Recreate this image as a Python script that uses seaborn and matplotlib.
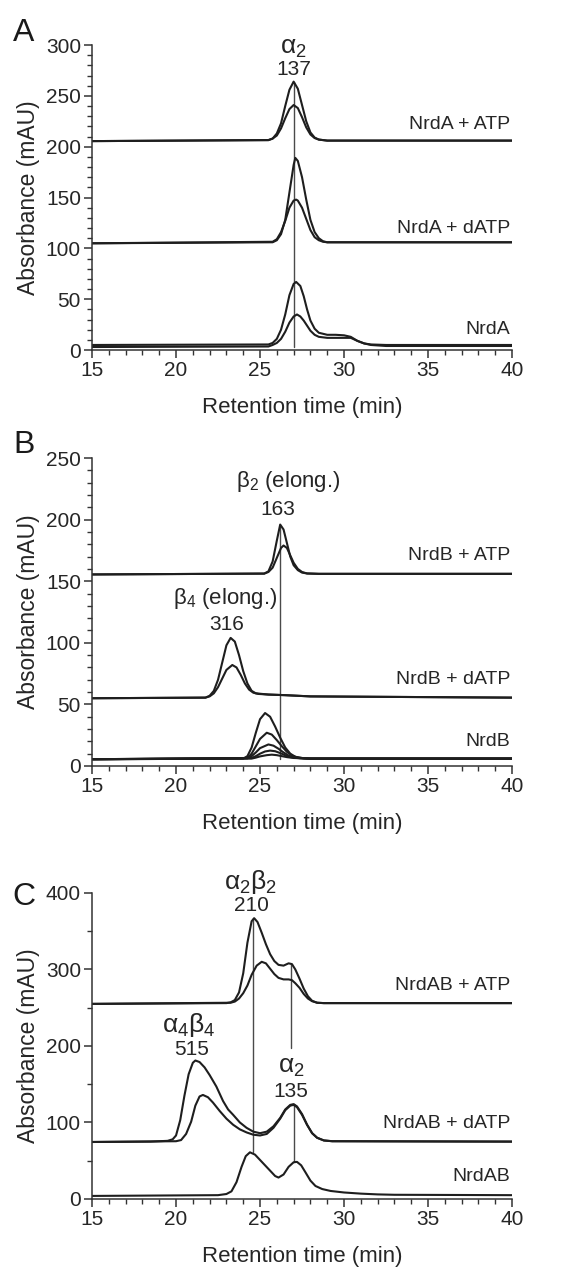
import matplotlib
matplotlib.use("Agg")
import matplotlib.pyplot as plt
from matplotlib.ticker import MultipleLocator
import pandas as pd
import seaborn as sns

# --- traces: (retention time in min, absorbance in mAU) ---

# panel A: NrdA
A_ATP_HIGH = [(15, 205.5), (25.5, 206.5), (25.75, 208), (26.0, 213), (26.25, 223), (26.5, 240),
              (26.75, 256), (27.0, 264), (27.25, 257), (27.5, 241), (27.75, 225), (28.0, 214),
              (28.25, 209), (28.5, 207), (29.0, 206), (40, 206)]
A_ATP_LOW = [(15, 205.5), (25.5, 206.5), (25.75, 208), (26.0, 211), (26.25, 218), (26.5, 228),
             (26.75, 237), (27.0, 241), (27.25, 238), (27.5, 229), (27.75, 219), (28.0, 212),
             (28.25, 208.5), (28.5, 207), (29.0, 206), (40, 206)]
A_DATP_HIGH = [(15, 105), (25.75, 106), (26.0, 108), (26.25, 114), (26.5, 128), (26.75, 155),
               (27.0, 182), (27.1, 189), (27.25, 186), (27.5, 170), (27.75, 148), (28.0, 128),
               (28.25, 116), (28.5, 110), (28.75, 107), (29.0, 106), (40, 106)]
A_DATP_LOW = [(15, 105), (25.75, 106.5), (26.0, 109), (26.25, 116), (26.5, 127), (26.75, 140),
              (27.0, 147), (27.15, 148), (27.25, 147), (27.5, 140), (27.75, 129), (28.0, 118),
              (28.25, 111), (28.5, 108), (28.75, 106.5), (29.0, 106), (40, 106)]
A_APO_HIGH = [(15, 5), (25.5, 5.5), (25.75, 7), (26.0, 11), (26.25, 20), (26.5, 35), (26.75, 54),
              (27.0, 65), (27.15, 67), (27.4, 63), (27.6, 53), (27.8, 40), (28.0, 29), (28.25, 21),
              (28.5, 17), (29.0, 15), (29.5, 15), (30.0, 14.5), (30.4, 13), (30.8, 9), (31.2, 6.5),
              (31.6, 5.5), (32.5, 5), (40, 5)]
A_APO_LOW = [(15, 3), (25.5, 3.5), (25.75, 5), (26.0, 7), (26.25, 11), (26.5, 18), (26.75, 27),
             (27.0, 33), (27.2, 35), (27.4, 33), (27.6, 29), (27.8, 24), (28.0, 19), (28.25, 15),
             (28.5, 13), (29.0, 12), (29.5, 12), (30.0, 12), (30.4, 12), (30.8, 9), (31.2, 6.5),
             (31.6, 5), (32.5, 4), (40, 4)]

# panel B: NrdB
B_ATP_HIGH = [(15, 155.5), (25.25, 156.2), (25.5, 158), (25.75, 166), (26.0, 183), (26.2, 196),
              (26.4, 192), (26.6, 181), (26.8, 170), (27.0, 163), (27.25, 159), (27.5, 157),
              (27.8, 156.3), (28.5, 156), (40, 156)]
B_ATP_LOW = [(15, 155.5), (25.25, 156.2), (25.5, 157.5), (25.75, 161), (26.0, 169), (26.25, 177),
             (26.4, 179), (26.6, 177), (26.8, 171), (27.0, 165), (27.25, 160), (27.5, 157.5),
             (27.8, 156.3), (28.5, 156), (40, 156)]
B_DATP_HIGH = [(15, 55), (21.75, 55.5), (22.0, 57), (22.25, 61), (22.5, 70), (22.75, 84), (23.0, 98),
               (23.25, 104), (23.5, 101), (23.75, 90), (24.0, 77), (24.25, 67), (24.5, 61),
               (24.75, 59), (25.5, 58), (26.5, 57.5), (28.0, 56.5), (40, 55.5)]
B_DATP_LOW = [(15, 55), (21.75, 55.5), (22.0, 56.5), (22.25, 59), (22.5, 64), (22.75, 71), (23.0, 78),
              (23.35, 82), (23.6, 80), (23.85, 74), (24.1, 67), (24.35, 62), (24.6, 59.5),
              (24.9, 58.5), (25.5, 58), (26.5, 57.5), (28.0, 56.5), (40, 55.5)]
B_APO_1 = [(15, 5.5), (24.0, 6), (24.25, 8), (24.5, 15), (24.75, 27), (25.0, 38), (25.3, 43),
           (25.6, 40), (25.9, 32), (26.2, 23), (26.5, 15), (26.8, 10), (27.1, 7.5), (27.5, 6.5),
           (28.0, 6), (40, 6)]
B_APO_2 = [(15, 5.5), (24.25, 6.5), (24.5, 10), (24.75, 16), (25.0, 22), (25.4, 27), (25.7, 25.5),
           (26.0, 21), (26.3, 16), (26.6, 11.5), (26.9, 8.5), (27.2, 7), (27.6, 6.3), (28.0, 6),
           (40, 6)]
B_APO_3 = [(15, 5.5), (24.25, 6.2), (24.5, 8), (24.75, 11), (25.0, 14.5), (25.5, 17.5), (25.8, 16.5),
           (26.1, 14), (26.4, 11), (26.7, 8.5), (27.0, 7), (27.4, 6.3), (28.0, 6), (40, 6)]
B_APO_4 = [(15, 5.5), (24.5, 6.5), (24.75, 8), (25.0, 10), (25.3, 11.8), (25.6, 12.5), (25.9, 12),
           (26.2, 10.5), (26.5, 8.7), (26.8, 7.3), (27.2, 6.5), (28.0, 6), (40, 6)]
B_APO_5 = [(15, 5.5), (24.5, 6), (24.75, 6.8), (25.0, 7.8), (25.4, 8.8), (25.7, 9.2), (26.0, 8.8),
           (26.3, 8), (26.6, 7.2), (27.0, 6.5), (28.0, 6), (40, 6)]

# panel C: NrdAB
C_ATP_HIGH = [(15, 255), (23.0, 256), (23.25, 257), (23.5, 260), (23.75, 270), (24.0, 295),
              (24.25, 335), (24.5, 363), (24.65, 367), (24.85, 362), (25.1, 348), (25.35, 333),
              (25.6, 320), (25.85, 311), (26.1, 306), (26.4, 305), (26.7, 308), (26.9, 307),
              (27.1, 300), (27.35, 288), (27.6, 275), (27.85, 265), (28.1, 259), (28.4, 256.5),
              (28.8, 256), (40, 256)]
C_ATP_LOW = [(15, 255), (23.25, 256.5), (23.5, 258), (23.75, 262), (24.0, 269), (24.25, 279),
             (24.5, 293), (24.8, 305), (25.1, 310), (25.35, 308), (25.6, 301), (25.85, 294),
             (26.1, 289), (26.4, 287), (26.7, 287), (26.9, 286), (27.1, 282), (27.35, 276),
             (27.6, 268), (27.85, 262), (28.1, 258.5), (28.4, 256.5), (28.8, 256), (40, 256)]
C_DATP_HIGH = [(15, 74.5), (18.5, 75), (19.5, 76), (19.8, 78), (20.0, 83), (20.25, 103), (20.5, 135),
               (20.75, 163), (21.0, 178), (21.15, 181), (21.4, 179), (21.7, 172), (22.0, 162),
               (22.4, 147), (22.8, 128), (23.1, 117), (23.4, 110), (23.8, 100), (24.2, 93),
               (24.6, 88), (25.0, 86), (25.4, 88), (25.8, 95), (26.2, 106), (26.5, 117), (26.8, 123),
               (27.0, 124), (27.2, 121), (27.5, 111), (27.8, 97), (28.1, 86), (28.4, 80),
               (28.8, 76.5), (29.3, 75.5), (40, 75)]
C_DATP_LOW = [(15, 74.5), (20.0, 75.5), (20.3, 77), (20.6, 85), (20.9, 101), (21.15, 122),
              (21.4, 134), (21.6, 136), (21.9, 133), (22.2, 126), (22.6, 115), (23.0, 105),
              (23.4, 97), (23.8, 91), (24.2, 87), (24.6, 84), (25.0, 83), (25.4, 85), (25.8, 93),
              (26.2, 105), (26.5, 116), (26.8, 122), (27.0, 123), (27.2, 120), (27.5, 110),
              (27.8, 97), (28.1, 86), (28.4, 80), (28.8, 76.5), (29.3, 75.5), (40, 75)]
C_APO = [(15, 4), (22.5, 5), (23.0, 6.5), (23.3, 10), (23.6, 22), (23.9, 42), (24.15, 56),
         (24.4, 61), (24.7, 58), (25.0, 51), (25.3, 44), (25.6, 37), (25.9, 30), (26.1, 28),
         (26.4, 32), (26.7, 42), (27.0, 48), (27.2, 48.5), (27.45, 44), (27.7, 35), (28.0, 24),
         (28.3, 17), (28.7, 13), (29.2, 10.5), (30.0, 8.5), (31.0, 7), (32.0, 6), (33.0, 5.5),
         (40, 5)]

# marker lines (x, y_from, y_to)
A_MARKERS = [(27.0, 3, 264)]
B_MARKERS = [(26.2, 6, 196)]
C_MARKERS = [(24.6, 61, 367), (26.85, 197, 307), (27.05, 48, 124)]

# annotations (text, x, y, size)
A_NOTES = [(r"$\mathregular{\alpha_2}$", 27.0, 297, 19), ("137", 27.0, 276, 15)]
B_NOTES = [(r"$\mathregular{\beta_2}$ (elong.)", 26.7, 231, 16), ("163", 26.05, 208, 15),
           (r"$\mathregular{\beta_4}$ (elong.)", 22.9, 136, 16), ("316", 23.0, 115, 15)]
C_NOTES = [(r"$\mathregular{\alpha_2\beta_2}$", 24.45, 414, 19), ("210", 24.5, 383, 15),
           (r"$\mathregular{\alpha_4\beta_4}$", 20.75, 228, 19), ("515", 20.95, 196, 15),
           (r"$\mathregular{\alpha_2}$", 26.85, 172, 19), ("135", 26.85, 141, 15)]

A_SAMPLES = ["NrdA + ATP", "NrdA + dATP", "NrdA"]
A_SAMPLE_Y = [222, 120, 20]
B_SAMPLES = ["NrdB + ATP", "NrdB + dATP", "NrdB"]
B_SAMPLE_Y = [171, 70, 20]
C_SAMPLES = ["NrdAB + ATP", "NrdAB + dATP", "NrdAB"]
C_SAMPLE_Y = [279, 99, 29]

LINE = "#1e1e1e"
TEXT = "#262626"

sns.set_theme(style="ticks")
plt.rcParams["font.family"] = ["Liberation Sans", "DejaVu Sans"]
plt.rcParams["mathtext.fontset"] = "custom"
plt.rcParams["mathtext.rm"] = "Liberation Sans"
plt.rcParams["mathtext.it"] = "Liberation Sans:italic"


def traces_frame(traces):
    rows = []
    for name, pts in traces.items():
        for t, a in pts:
            rows.append({"trace": name, "time": t, "mAU": a})
    return pd.DataFrame(rows)


def draw_panel(ax, traces, ymax, ymajor, yminor, markers, notes, samples, sample_y):
    df = traces_frame(traces)
    sns.lineplot(data=df, x="time", y="mAU", units="trace", estimator=None,
                 color=LINE, linewidth=1.5, ax=ax, legend=False)
    for x, y0, y1 in markers:
        ax.plot([x, x], [y0, y1], color="#4a4a4a", linewidth=1.0, zorder=1)
    for txt, x, y, size in notes:
        ax.text(x, y, txt, ha="center", va="center", fontsize=size, color=TEXT)
    for txt, y in zip(samples, sample_y):
        ax.text(39.9, y, txt, ha="right", va="center", fontsize=14, color=TEXT)

    ax.set_xlim(15, 40)
    ax.set_ylim(0, ymax)
    ax.xaxis.set_major_locator(MultipleLocator(5))
    ax.xaxis.set_minor_locator(MultipleLocator(1))
    ax.yaxis.set_major_locator(MultipleLocator(ymajor))
    ax.yaxis.set_minor_locator(MultipleLocator(yminor))
    ax.tick_params(which="major", length=6, width=1.1, labelsize=15, colors="#333333",
                   labelcolor=TEXT, pad=2)
    ax.tick_params(which="minor", length=3.5, width=1.0, colors="#333333")
    ax.set_xlabel("Retention time (min)", fontsize=16, color=TEXT, labelpad=12)
    ax.set_ylabel("Absorbance (mAU)", fontsize=16.5, color=TEXT, labelpad=4)
    for side in ["left", "bottom"]:
        ax.spines[side].set_color("#333333")
        ax.spines[side].set_linewidth(1.1)
    sns.despine(ax=ax)


fig = plt.figure(figsize=(5.73, 12.72), dpi=100)
left, width = 0.1606, 0.733
ax_a = fig.add_axes([left, 0.7248, width, 0.2398])
ax_b = fig.add_axes([left, 0.3978, width, 0.2421])
ax_c = fig.add_axes([left, 0.0574, width, 0.2406])

draw_panel(ax_a, {"atp_hi": A_ATP_HIGH, "atp_lo": A_ATP_LOW, "datp_hi": A_DATP_HIGH,
                  "datp_lo": A_DATP_LOW, "apo_hi": A_APO_HIGH, "apo_lo": A_APO_LOW},
           300, 50, 10, A_MARKERS, A_NOTES, A_SAMPLES, A_SAMPLE_Y)
draw_panel(ax_b, {"atp_hi": B_ATP_HIGH, "atp_lo": B_ATP_LOW, "datp_hi": B_DATP_HIGH,
                  "datp_lo": B_DATP_LOW, "apo1": B_APO_1, "apo2": B_APO_2, "apo3": B_APO_3,
                  "apo4": B_APO_4, "apo5": B_APO_5},
           250, 50, 10, B_MARKERS, B_NOTES, B_SAMPLES, B_SAMPLE_Y)
draw_panel(ax_c, {"atp_hi": C_ATP_HIGH, "atp_lo": C_ATP_LOW, "datp_hi": C_DATP_HIGH,
                  "datp_lo": C_DATP_LOW, "apo": C_APO},
           400, 100, 50, C_MARKERS, C_NOTES, C_SAMPLES, C_SAMPLE_Y)

for letter, y in [("A", 0.974), ("B", 0.650), ("C", 0.295)]:
    fig.text(0.042, y, letter, ha="center", va="center", fontsize=23, color="#1a1a1a")

fig.savefig("out.png", dpi=100)
